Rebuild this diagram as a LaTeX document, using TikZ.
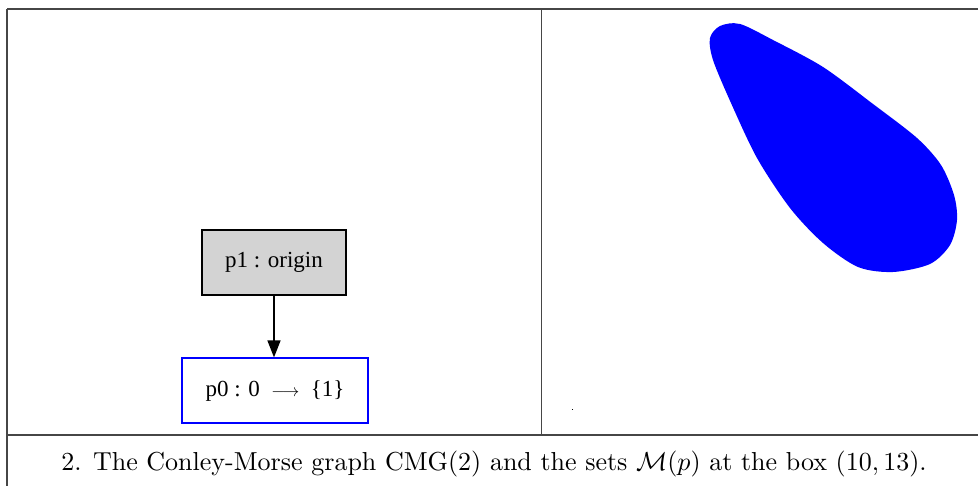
\documentclass[tikz,border=0pt]{standalone}
\usepackage{fontspec}
\newfontfamily\gvfont{Liberation Serif}
\usetikzlibrary{arrows.meta}
\definecolor{gvgray}{RGB}{211,211,211}
\definecolor{rulecol}{RGB}{70,70,70}
\begin{document}
\begin{tikzpicture}[x=1pt,y=-1pt,
  rulel/.style={draw=rulecol,line width=1.3pt},
  gvbox/.style={draw,line width=1.2pt,minimum width=144pt,minimum height=65pt,inner sep=0pt,font=\gvfont\fontsize{23}{27}\selectfont},
  gvedge/.style={line width=1.5pt,-{Triangle[length=17pt,width=13pt]}}]
\useasboundingbox (0,0) rectangle (978,486);
\fill[white] (0,0) rectangle (978,486);
% table rules
\draw[rulel] (7,9) -- (978,9);
\draw[rulel] (7,9) -- (7,486);
\draw[rulel] (541.5,9) -- (541.5,435);
\draw[rulel] (7,435) -- (978,435);
% graph
\node[gvbox,fill=gvgray,draw=black] (p1) at (274,262.5) {p1 : origin};
\node[gvbox,draw=blue,minimum width=186pt] (p0) at (275,390.5) {p0 : 0 \ \(\scriptstyle\longrightarrow\)\ \ \{1\}};
\draw[gvedge] (p1) -- (p1 |- p0.north);
% Morse set
\fill[blue] plot[smooth cycle,tension=0.5] coordinates {
 (710,38) (720,26) (740,24) (773,40) (823,67) (873,104) (917,138) (941,165)
 (954,195) (957,220) (950,245) (930,264) (893,272) (858,267) (823,243)
 (790,208) (757,158) (731,103) (713,60)};
\fill[black] (571.5,409.5) rectangle (572.5,410.5);
% caption
\node[font=\fontsize{10}{12}\selectfont,scale=2.6,anchor=base,inner sep=0pt] (cap) at (494,471)
 {2. The Conley-Morse graph CMG(2) and the sets $\mathcal{M}(p)$ at the box $(10,13)$.};
\end{tikzpicture}
\end{document}
